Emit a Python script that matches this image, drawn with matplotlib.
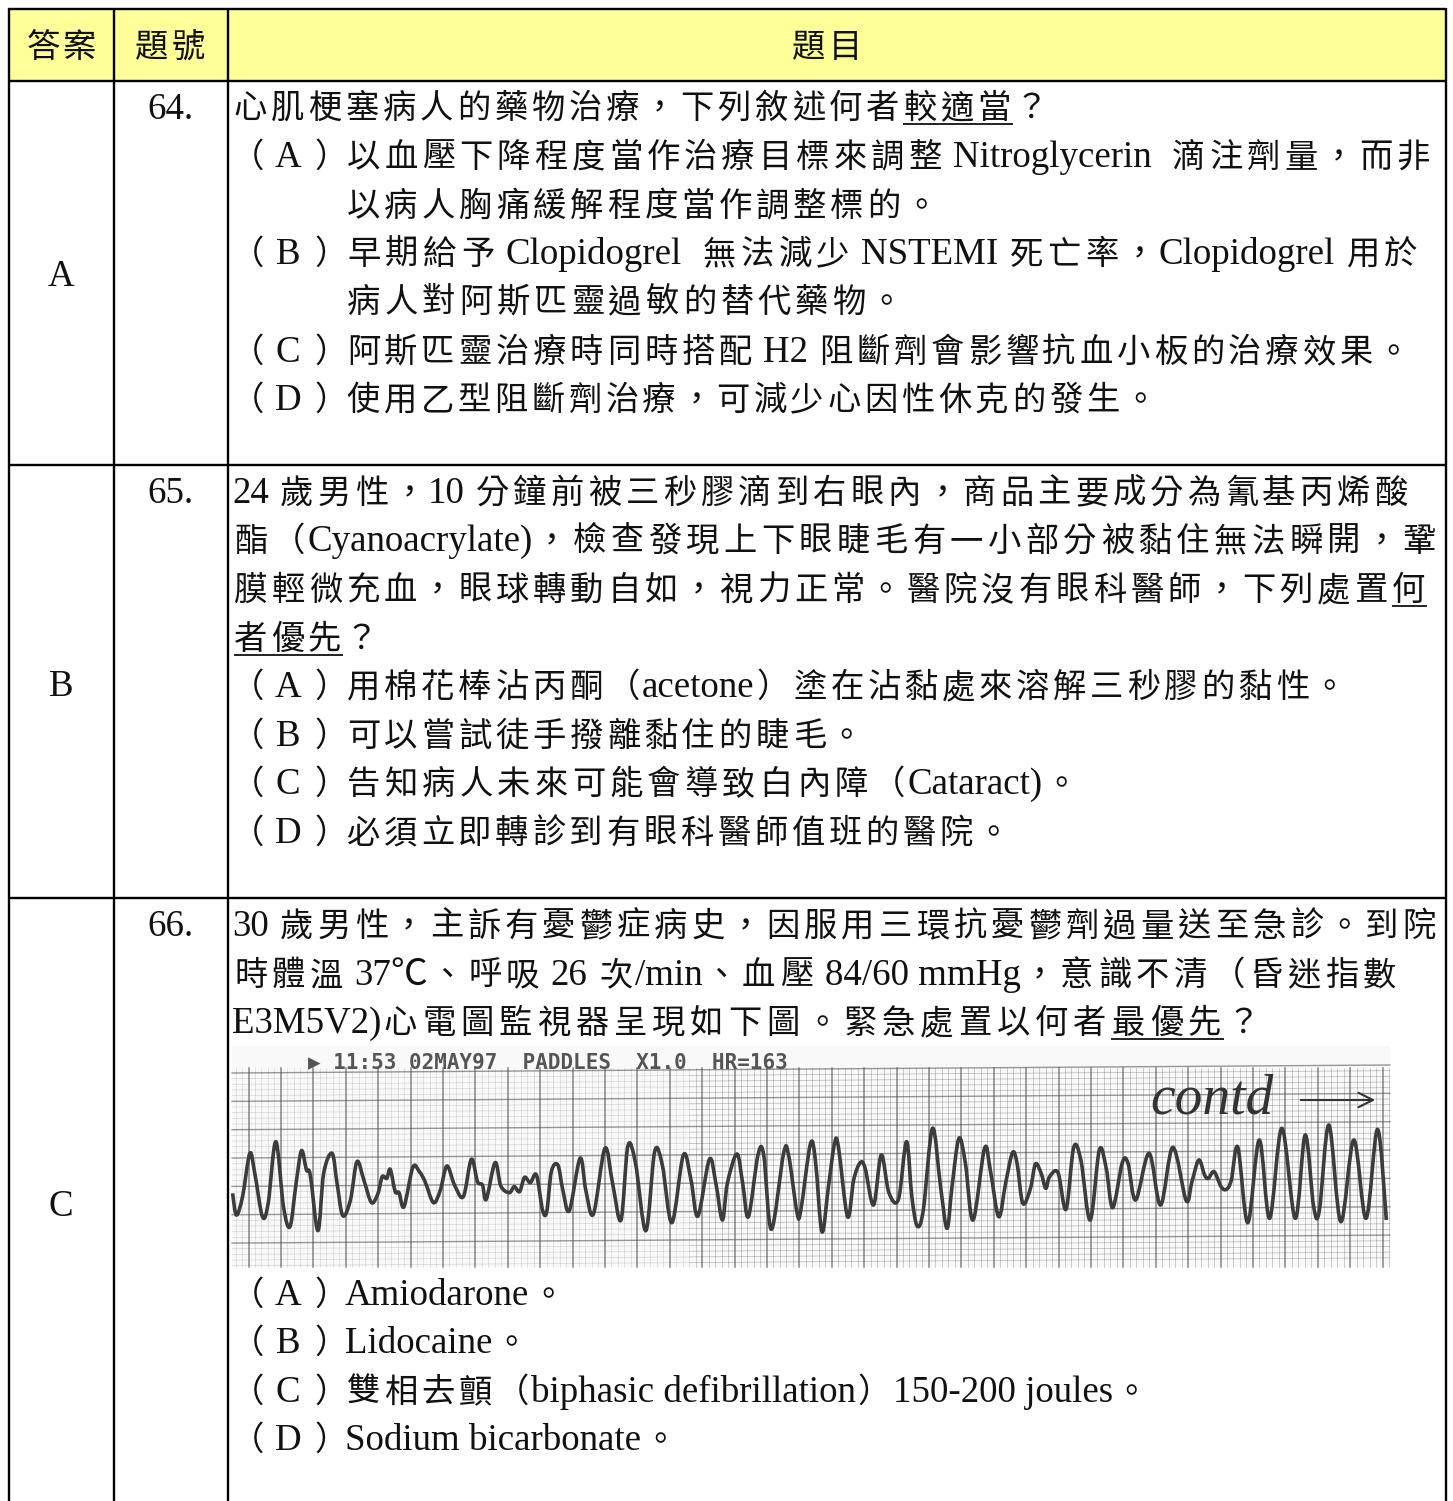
import re
import numpy as np
import matplotlib
matplotlib.use('Agg')
import matplotlib.pyplot as plt
from matplotlib.path import Path
from matplotlib.patches import PathPatch, Rectangle

# table text
header_labels = ['答案', '題號', '題目']
answers = ['A', 'B', 'C']
numbers = ['64.', '65.', '66.']

row_a_lines = [
    '心肌梗塞病人的藥物治療,下列敘述何者{較適當}?',
    '(A)以血壓下降程度當作治療目標來調整 Nitroglycerin  滴注劑量,而非',
    '以病人胸痛緩解程度當作調整標的。',
    '(B)早期給予 Clopidogrel  無法減少 NSTEMI 死亡率,Clopidogrel 用於',
    '病人對阿斯匹靈過敏的替代藥物。',
    '(C)阿斯匹靈治療時同時搭配 H2 阻斷劑會影響抗血小板的治療效果。',
    '(D)使用乙型阻斷劑治療,可減少心因性休克的發生。',
]
row_b_lines = [
    '24 歲男性,10 分鐘前被三秒膠滴到右眼內,商品主要成分為氰基丙烯酸',
    '酯(Cyanoacrylate],檢查發現上下眼睫毛有一小部分被黏住無法瞬開,鞏',
    '膜輕微充血,眼球轉動自如,視力正常。醫院沒有眼科醫師,下列處置{何}',
    '{者優先}?',
    '(A)用棉花棒沾丙酮(acetone)塗在沾黏處來溶解三秒膠的黏性。',
    '(B)可以嘗試徒手撥離黏住的睫毛。',
    '(C)告知病人未來可能會導致白內障(Cataract]。',
    '(D)必須立即轉診到有眼科醫師值班的醫院。',
]
row_c_lines = [
    '30 歲男性,主訴有憂鬱症病史,因服用三環抗憂鬱劑過量送至急診。到院',
    '時體溫 37℃、呼吸 26 次/min、血壓 84/60 mmHg,意識不清(昏迷指數',
    'E3M5V2]心電圖監視器呈現如下圖。緊急處置以何者{最優先}?',
    '(A)Amiodarone。',
    '(B)Lidocaine。',
    '(C)雙相去顫(biphasic defibrillation)150-200 joules。',
    '(D)Sodium bicarbonate。',
]

# where each line sits: centre y, left x, right x
row_a_y = [106, 155, 204, 252, 300, 350, 398]
row_a_x0 = [232, 345, 345, 345, 345, 345, 345]
row_a_x1 = [1050, 1432, 940, 1420, 905, 1412, 1158]
row_b_y = [491, 539, 588, 637, 685, 734, 782, 831]
row_b_x0 = [232, 232, 232, 232, 345, 345, 345, 345]
row_b_x1 = [1410, 1438, 1427, 380, 1348, 865, 1080, 1012]
row_c_y = [924, 973, 1021, 1293, 1341, 1390, 1438]
row_c_x0 = [232, 232, 232, 345, 345, 345, 345]
row_c_x1 = [1438, 1398, 1262, 566, 530, 1150, 680]

# ECG trace readings, strip one (x along the strip, y from the zoomed crop)
trace_a_x = [12, 22, 38, 57, 70, 90, 105, 125, 145, 162, 178, 192, 205, 215, 235, 250, 272, 285, 300, 320,
             337, 355, 375, 392, 403, 415, 424, 437, 447, 460, 483, 500, 515, 537, 555, 572, 592, 615, 636,
             652, 665, 675, 698, 713, 735, 748, 762, 775, 790, 806, 822, 833, 845, 862, 875, 892, 920, 935,
             955, 985, 1005, 1027, 1045, 1065, 1092, 1115, 1135, 1160, 1190, 1210, 1228, 1258, 1275, 1292,
             1305, 1330, 1345, 1360, 1385, 1400, 1420, 1452, 1465, 1487, 1497, 1522, 1535]
trace_a_y = [460, 525, 470, 340, 400, 530, 490, 305, 500, 560, 430, 332, 390, 405, 572, 400, 340, 430, 527, 480,
             365, 420, 488, 460, 410, 415, 388, 455, 458, 500, 382, 395, 425, 488, 450, 378, 435, 470, 358,
             425, 435, 478, 368, 438, 458, 440, 455, 412, 428, 405, 510, 515, 395, 375, 450, 512, 355, 450,
             522, 325, 430, 540, 318, 370, 572, 335, 375, 548, 345, 420, 528, 358, 430, 540,
             430, 342, 430, 530, 345, 345, 568, 340, 345, 518, 510, 312, 360]
# strip two
trace_b_x = [5, 22, 38, 48, 72, 88, 105, 118, 140, 160, 180, 205, 226, 240, 254, 270, 294, 315, 332, 345,
             363, 380, 400, 430, 445, 467, 485, 503, 515, 530, 550, 563, 578, 590, 600, 622, 643, 663, 682,
             706, 730, 748, 765, 790, 805, 825, 860, 890, 922, 957, 972, 990, 1005, 1015, 1030, 1048, 1062,
             1075, 1092, 1118, 1148, 1175, 1207, 1242, 1268, 1290, 1305, 1330, 1361, 1395, 1427, 1457, 1480]
trace_b_y = [575, 440, 310, 320, 530, 420, 368, 385, 495, 345, 458, 478, 305, 470, 558, 510, 265, 440, 565, 440,
             295, 370, 540, 325, 390, 530, 430, 338, 370, 490, 445, 372, 400, 445, 410, 398, 508, 322, 362,
             540, 330, 385, 503, 368, 370, 480, 340, 495, 322, 482, 425, 360, 405, 415, 395, 440, 448,
             420, 322, 548, 300, 535, 265, 535, 285, 500, 512, 255, 545, 300, 535, 268, 540]
strip_label = '▶ 11:53 02MAY97  PADDLES  X1.0  HR=163'
strip_note = 'contd'

LATIN = 'Liberation Serif'
CJK = 'Noto Sans CJK TC'
FS_LATIN = 26.6
FS_CJK = 24.0
INK = '#111111'
WIDE = r'[\u3000-\u9fff\uff00-\uffef]'
# the lines above use plain punctuation, the page prints the full width forms;
# ] marks the narrow closing bracket that hugs the next character
FULL_WIDTH = str.maketrans({'(': '\uff08', ')': '\uff09', ',': '\uff0c', '?': '\uff1f', ']': ')'})

fig = plt.figure(figsize=(14.53, 15.01), dpi=100)
ax = fig.add_axes([0, 0, 1, 1])
ax.set_xlim(0, 1453)
ax.set_ylim(1501, 0)
ax.axis('off')
renderer = fig.canvas.get_renderer()


def latin_width(s):
    t = ax.text(0, 0, s, fontsize=FS_LATIN, family=[LATIN, CJK])
    w = t.get_window_extent(renderer).width
    t.remove()
    return w


def put_cjk(ch, cx, y):
    ax.text(cx, y + 12, ch, fontsize=FS_CJK, family=[CJK, 'DejaVu Sans'], ha='center', va='baseline', color=INK)


def put_latin(s, x, y, ha='left'):
    ax.text(x, y + 12, s, fontsize=FS_LATIN, family=[LATIN, CJK], ha=ha, va='baseline', color=INK)


def put_line(line, y, x0, x1):
    # spreads the Chinese cells so the line runs from x0 to x1
    line = line.translate(FULL_WIDTH)
    m = re.match(r'\uff08([A-D])\uff09', line)
    if m:
        put_cjk('\uff08', 247, y)
        put_latin(m.group(1), 288, y, ha='center')
        put_cjk('\uff09', 331, y)
        line = line[m.end():]
    tokens = re.findall(r'[{}]|' + WIDE + r'|[^{}\u3000-\u9fff\uff00-\uffef]+', line)
    widths = {t: latin_width(t.strip()) + 9.2 * (len(t) - len(t.strip())) for t in tokens
              if t not in '{}' and not re.match(WIDE, t)}
    n_cjk = sum(1 for t in tokens if re.match(WIDE, t))
    pitch = (x1 - x0 - sum(widths[t] for t in tokens if t in widths)) / max(n_cjk, 1)
    x = x0
    start = None
    for t in tokens:
        if t == '{':
            start = x
        elif t == '}':
            ax.plot([start + 2, x], [y + 18, y + 18], color=INK, lw=1.3, solid_capstyle='butt')
        elif t in widths:
            put_latin(t.strip(), x + 9.2 * (len(t) - len(t.lstrip())), y)
            x += widths[t]
        else:
            put_cjk(t, x + pitch / 2, y)
            x += pitch


def smooth_path(xs, ys):
    # Catmull-Rom curve through the read points
    pts = np.column_stack([xs, ys])
    verts = [pts[0]]
    codes = [Path.MOVETO]
    for i in range(len(pts) - 1):
        p0 = pts[max(i - 1, 0)]
        p1 = pts[i]
        p2 = pts[i + 1]
        p3 = pts[min(i + 2, len(pts) - 1)]
        verts += [p1 + (p2 - p0) / 6, p2 - (p3 - p1) / 6, p2]
        codes += [Path.CURVE4, Path.CURVE4, Path.CURVE4]
    return Path(verts, codes)


# table
ax.add_patch(Rectangle((8, 8), 1438, 73, fc='#FFFF99', ec='none', zorder=0))
for x in [8.5, 114, 228, 1446]:
    ax.plot([x, x], [8, 1501], color='black', lw=1.7, solid_capstyle='butt')
for y in [8.5, 81, 465, 898]:
    ax.plot([8, 1446], [y, y], color='black', lw=1.7, solid_capstyle='butt')

for label, cx in zip(header_labels, [61, 170, 827]):
    put_cjk(label[0], cx - 18, 45)
    put_cjk(label[1], cx + 18, 45)

for ans, num, ay, ny in zip(answers, numbers, [274, 684, 1204], [107, 491, 924]):
    put_latin(ans, 61, ay, ha='center')
    put_latin(num, 170, ny, ha='center')

for lines, ys, x0s, x1s in [(row_a_lines, row_a_y, row_a_x0, row_a_x1),
                            (row_b_lines, row_b_y, row_b_x0, row_b_x1),
                            (row_c_lines, row_c_y, row_c_x0, row_c_x1)]:
    for line, y, x0, x1 in zip(lines, ys, x0s, x1s):
        put_line(line, y, x0, x1)

# ECG strip, same pixel scale as the page; the left of the paper is paler
ax.add_patch(Rectangle((232, 1046), 1158, 221, fc='#f9f9f9', ec='none', zorder=1))
for i, gx in enumerate(np.arange(1389, 232, -6.48)):
    major = i % 5 == 1
    if major:
        ax.plot([gx, gx], [1068, 1267], color='#555555', lw=1.1, alpha=0.7, zorder=2)
    else:
        ax.plot([gx, gx], [1068, 1267], color='#555555', lw=0.5, alpha=0.4 if gx > 690 else 0.2, zorder=2)
for i, gy in enumerate(np.arange(1073, 1267, 5.67)):
    major = i % 5 == 0
    slope = np.array([0, -8])
    if major:
        ax.plot([232, 1390], gy + slope, color='#555555', lw=1.0, alpha=0.6, zorder=2)
    else:
        ax.plot([232, 690], gy + slope * 0.4, color='#555555', lw=0.5, alpha=0.2, zorder=2)
        ax.plot([690, 1390], gy + slope * 0.6 - 3.2, color='#555555', lw=0.5, alpha=0.4, zorder=2)

sx = 600 / 1568
trace_x = np.r_[228 + np.array(trace_a_x) * sx, 820 + np.array(trace_b_x) * sx]
trace_y = np.r_[1040 + np.array(trace_a_y) / 3, 1040 + np.array(trace_b_y) / 3]
ax.add_patch(PathPatch(smooth_path(trace_x, trace_y), fc='none', ec='#3c3c3c', lw=2.6, zorder=4, joinstyle='round'))

ax.text(308, 1062, strip_label, fontsize=15, family=['DejaVu Sans Mono'], weight='bold', color='#555555',
        va='center', zorder=5)
ax.text(1150, 1100, strip_note, fontsize=40, family=[LATIN], style='italic', color='#333333', va='center', zorder=5)
ax.annotate('', xy=(1378, 1100), xytext=(1298, 1100), zorder=5,
            arrowprops=dict(arrowstyle='->', color='#333333', lw=1.5, mutation_scale=26))

fig.savefig('out.png', dpi=100)
